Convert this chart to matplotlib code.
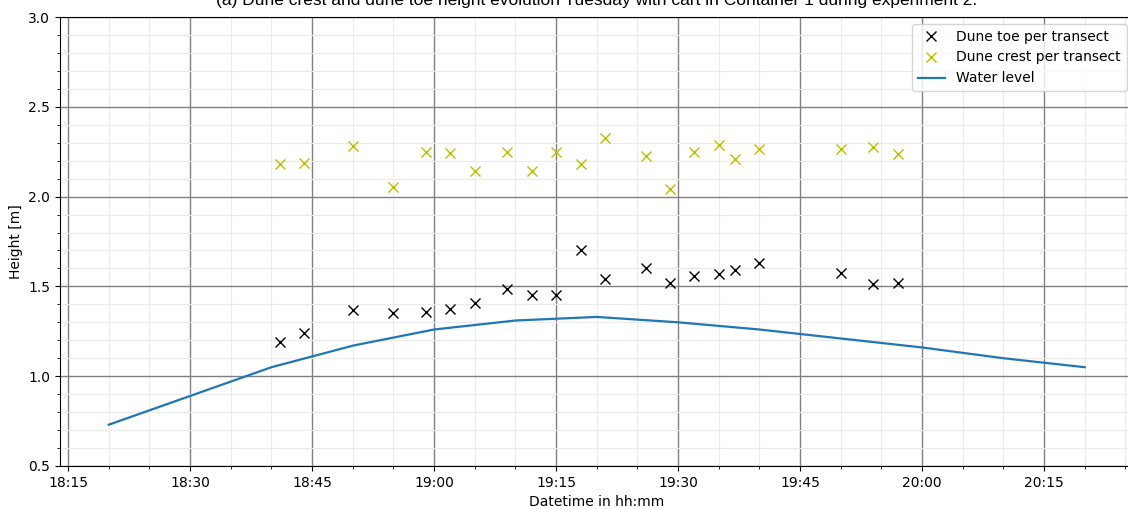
"""Dune crest / dune toe heights with water level"""
import matplotlib
matplotlib.use('Agg')
import matplotlib.pyplot as plt
import matplotlib.dates as mdates
from datetime import datetime

day = "2023-05-16 "

# transect measurement times (hh:mm)
transect_times = ["18:41", "18:44", "18:50", "18:55", "18:59", "19:02", "19:05",
                  "19:09", "19:12", "19:15", "19:18", "19:21", "19:26", "19:29",
                  "19:32", "19:35", "19:37", "19:40", "19:50", "19:54", "19:57"]
dune_toe = [1.19, 1.24, 1.37, 1.35, 1.36, 1.375, 1.41,
            1.485, 1.45, 1.45, 1.70, 1.54, 1.60, 1.52,
            1.56, 1.57, 1.59, 1.63, 1.575, 1.515, 1.52]
dune_crest = [2.18, 2.185, 2.28, 2.055, 2.25, 2.245, 2.14,
              2.25, 2.145, 2.25, 2.18, 2.325, 2.225, 2.04,
              2.25, 2.285, 2.21, 2.265, 2.265, 2.275, 2.235]

# water level
wl_times = ["18:20", "18:30", "18:40", "18:50", "19:00", "19:10", "19:20",
            "19:30", "19:40", "19:50", "20:00", "20:10", "20:20"]
water_level = [0.73, 0.89, 1.05, 1.17, 1.26, 1.31, 1.33,
               1.30, 1.26, 1.21, 1.16, 1.10, 1.05]

t_tr = [datetime.strptime(day + t, "%Y-%m-%d %H:%M") for t in transect_times]
t_wl = [datetime.strptime(day + t, "%Y-%m-%d %H:%M") for t in wl_times]

fig = plt.figure(figsize=(11.28, 5.09), dpi=100)
ax = fig.add_axes([0.0532, 0.0845, 0.9517, 0.8821])

ax.plot(t_tr, dune_toe, 'x', color='k', markersize=7, label='Dune toe per transect')
ax.plot(t_tr, dune_crest, 'x', color='#bfbf00', markersize=7, label='Dune crest per transect')
ax.plot(t_wl, water_level, color='#1f77b4', linewidth=1.6, label='Water level')

ax.set_ylim(0.5, 3.0)
ax.set_xlim(datetime.strptime(day + "18:14", "%Y-%m-%d %H:%M"),
            datetime.strptime(day + "20:26", "%Y-%m-%d %H:%M"))

ax.xaxis.set_major_locator(mdates.MinuteLocator(byminute=[0, 15, 30, 45]))
ax.xaxis.set_minor_locator(mdates.MinuteLocator(byminute=range(0, 60, 5)))
ax.xaxis.set_major_formatter(mdates.DateFormatter('%H:%M'))
ax.yaxis.set_major_locator(plt.MultipleLocator(0.5))
ax.yaxis.set_minor_locator(plt.MultipleLocator(0.1))

ax.grid(which='major', color='#808080', linewidth=1)
ax.grid(which='minor', color='#ebebeb', linewidth=0.8)
ax.set_axisbelow(True)

ax.tick_params(labelsize=10)
ax.set_xlabel('Datetime in hh:mm', fontsize=10)
ax.set_ylabel('Height [m]', fontsize=10)
ax.set_title('(a) Dune crest and dune toe height evolution Tuesday with cart in '
             'Container 1 during experiment 2.', fontsize=12.5,
             family='Liberation Sans', pad=8.6)
ax.legend(loc='upper right', fontsize=10)

fig.savefig('out.png', dpi=100)
plt.close()
